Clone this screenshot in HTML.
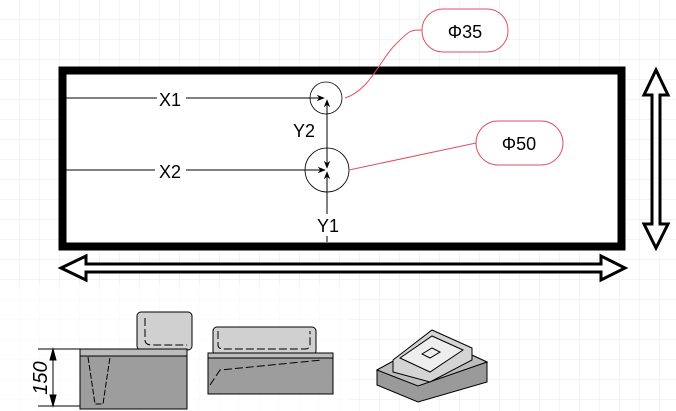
<!DOCTYPE html>
<html><head><meta charset="utf-8"><style>
html,body{margin:0;padding:0;background:#fff;}
svg{display:block;font-family:"Liberation Sans",sans-serif;}
</style></head><body>
<svg width="676" height="411" viewBox="0 0 676 411" xmlns="http://www.w3.org/2000/svg">
<defs>
<pattern id="g" width="20" height="20" patternUnits="userSpaceOnUse">
<path d="M20 0V20M0 20H20" stroke="#e8e8e8" stroke-width="1" fill="none"/>
</pattern>
<marker id="a" viewBox="0 0 10 10" refX="9" refY="5" markerWidth="8" markerHeight="8" orient="auto"><path d="M0 1L10 5L0 9L3 5z" fill="#000"/></marker>
</defs>
<rect width="676" height="411" fill="url(#g)"/>
<rect x="0" y="285" width="350" height="126" fill="#fff" opacity="0.7"/>
<rect x="62.5" y="70.5" width="559" height="176" fill="#fff" stroke="#000" stroke-width="8"/>
<line x1="66" y1="98" x2="157" y2="98" stroke="#000"/>
<line x1="186" y1="98" x2="324" y2="98" stroke="#000" marker-end="url(#a)"/>
<line x1="66" y1="170" x2="155" y2="170" stroke="#000"/>
<line x1="186" y1="170" x2="325" y2="170" stroke="#000" marker-end="url(#a)"/>
<line x1="327" y1="242" x2="327" y2="236" stroke="#000"/>
<line x1="327" y1="214" x2="327" y2="172" stroke="#000" marker-end="url(#a)"/>
<line x1="327" y1="116" x2="327" y2="168" stroke="#000" marker-end="url(#a)"/>
<line x1="327" y1="150" x2="327" y2="100" stroke="#000" marker-end="url(#a)"/>
<circle cx="326" cy="98" r="16" fill="none" stroke="#000" stroke-width="0.8"/>
<circle cx="327" cy="170" r="22" fill="none" stroke="#000" stroke-width="0.8"/>
<text x="170" y="106" font-size="18" text-anchor="middle">X1</text>
<text x="170" y="178" font-size="18" text-anchor="middle">X2</text>
<rect x="289" y="120" width="28" height="22" fill="#fff"/>
<text x="304" y="137" font-size="18" text-anchor="middle">Y2</text>
<rect x="314" y="214" width="28" height="22" fill="#fff"/>
<text x="328" y="232" font-size="18" text-anchor="middle">Y1</text>
<path d="M345 98C370 90 380 60 395 45S410 30 422 30" fill="none" stroke="#e05060" stroke-width="1"/>
<rect x="422" y="9" width="86" height="43" rx="21" fill="#fff" stroke="#e05060"/>
<text x="465" y="38" font-size="18" text-anchor="middle">Φ35</text>
<path d="M349 170L476 143" fill="none" stroke="#e05060" stroke-width="1"/>
<rect x="476" y="121" width="87" height="44" rx="22" fill="#fff" stroke="#e05060"/>
<text x="519" y="150" font-size="18" text-anchor="middle">Φ50</text>
<path d="M656 70L668 95H660V224H668L656 248L644 224H652V95H644Z" fill="#fff" stroke="#000" stroke-width="3"/>
<path d="M61 268L86 256V264H601V256L625 268L601 280V272H86V280Z" fill="#fff" stroke="#000" stroke-width="3"/>
<g stroke="#000" stroke-width="1">
<rect x="137" y="312" width="55" height="38" rx="4" fill="#d0d0d0"/>
<path d="M145 318V340Q145 345 152 345H187" fill="none" stroke-dasharray="8,3"/>
<line x1="38" y1="349" x2="80" y2="349"/>
<line x1="38" y1="406" x2="80" y2="406"/>
<line x1="53" y1="351" x2="53" y2="404"/>
<path d="M53 349L50 360H56Z" fill="#000"/><path d="M53 406L50 395H56Z" fill="#000"/>
<rect x="80" y="349" width="107" height="60" fill="#9d9d9d"/>
<rect x="80" y="349" width="107" height="7" fill="#bdbdbd"/>
<path d="M88 357L95 404H103L110 357" fill="none" stroke-dasharray="6,2"/>
<rect x="213" y="327" width="103" height="28" rx="4" fill="#d0d0d0"/>
<path d="M218 331V345Q218 349 224 349H305Q310 349 310 344V331" fill="none" stroke-dasharray="8,3"/>
<rect x="208" y="353" width="125" height="6" fill="#bdbdbd"/>
<rect x="208" y="358" width="125" height="36" fill="#9d9d9d"/>
<path d="M210 385L220 370L322 360" fill="none" stroke-dasharray="8,3"/>
<path d="M377 370L435 338L487 362V382L418 402L377 385Z" fill="#9a9a9a"/>
<path d="M377 370L435 338L487 362L418 386Z" fill="#bdbdbd"/>
<path d="M393 360L432 330L472 348V360L430 382L393 372Z" fill="#d4d4d4"/>
<path d="M400 358L432 336L463 350L430 372Z" fill="#eee"/>
<path d="M422 354L432 348L440 352L430 358Z" fill="none"/>
</g>
<text transform="translate(47 378) rotate(-90)" font-size="20" font-style="italic" text-anchor="middle">150</text>
</svg>
</body></html>
